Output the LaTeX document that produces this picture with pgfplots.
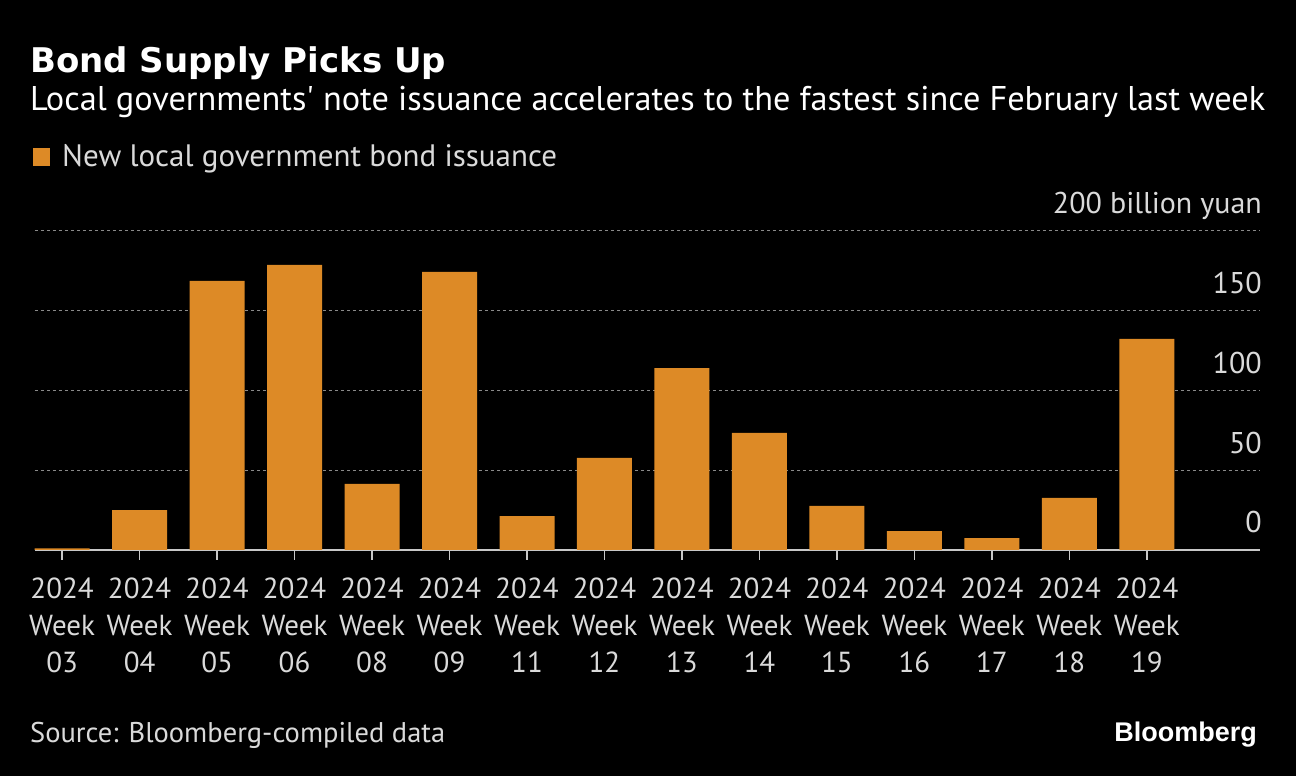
\documentclass[border=0pt]{standalone}
\usepackage{fontspec}
\setmainfont{PT Sans}
\newfontfamily\logofont{Liberation Sans}
\newfontfamily\titlefont{DejaVu Sans}
\usepackage{pgfplots}
\pgfplotsset{compat=1.18}
\definecolor{barorange}{HTML}{DD8A26}
\definecolor{txtgrey}{HTML}{DADADA}
\definecolor{gridgrey}{HTML}{8A8A8A}
\definecolor{axisgrey}{HTML}{C8C8C8}
\begin{document}
\begin{tikzpicture}
\fill[black] (0pt,0pt) rectangle (1296pt,776pt);
\node[anchor=base west, inner sep=0, text=white, font=\fontsize{34}{38}\selectfont\titlefont\bfseries] at (30pt,703pt) {Bond Supply Picks Up};
\node[anchor=base west, inner sep=0, text=white, font=\fontsize{34.3}{40}\selectfont] at (30pt,665pt) {Local governments\textquotesingle{} note issuance accelerates to the fastest since February last week};
\fill[barorange] (33pt,610pt) rectangle (50pt,628pt);
\node[anchor=base west, inner sep=0, text=txtgrey, font=\fontsize{31}{34}\selectfont] at (62pt,609pt) {New local government bond issuance};
\node[anchor=base west, inner sep=0, text=txtgrey, font=\fontsize{28.5}{34}\selectfont] at (30pt,33pt) {Source: Bloomberg-compiled data};
\node[anchor=base east, inner sep=0, text=white, font=\fontsize{27}{32}\selectfont\logofont\bfseries] at (1257pt,34pt) {Bloomberg};
\begin{axis}[
  at={(62.1pt,226pt)}, anchor=origin,
  scale only axis, width=1225pt, height=319pt,
  xmin=-0.35, xmax=15.46, ymin=0, ymax=200,
  axis x line*=bottom, axis y line*=right,
  x axis line style={draw=axisgrey, line width=1.5pt, -},
  y axis line style={draw=none},
  xtick={0,...,14},
  xticklabels={{2024\\Week\\03},{2024\\Week\\04},{2024\\Week\\05},{2024\\Week\\06},{2024\\Week\\08},{2024\\Week\\09},{2024\\Week\\11},{2024\\Week\\12},{2024\\Week\\13},{2024\\Week\\14},{2024\\Week\\15},{2024\\Week\\16},{2024\\Week\\17},{2024\\Week\\18},{2024\\Week\\19}},
  xticklabel style={align=center, anchor=north, inner sep=0, yshift=-18pt, text=txtgrey, font=\fontsize{29}{37}\selectfont},
  x tick style={draw=axisgrey, line width=1.5pt},
  tick align=outside, major tick length=10pt,
  ytick={0,50,100,150,200},
  yticklabels={0,50,100,150,200 billion yuan},
  yticklabel style={anchor=base east, inner sep=0, xshift=-8pt, yshift=17pt, text=txtgrey, font=\fontsize{30}{34}\selectfont},
  y tick style={draw=none},
  ymajorgrids, grid style={draw=gridgrey, line width=1pt, dash pattern=on 3pt off 3pt},
  /pgf/number format/assume math mode=true,
  clip=false,
]
\addplot[ybar, bar width=55pt, fill=barorange, draw=none] coordinates {
(0,1) (1,25) (2,168.7) (3,178.7) (4,41.4) (5,174.3) (6,21.3) (7,57.7) (8,114.1) (9,73.4) (10,27.6) (11,11.9) (12,7.5) (13,32.6) (14,132.3)
};
\end{axis}
\end{tikzpicture}
\end{document}
